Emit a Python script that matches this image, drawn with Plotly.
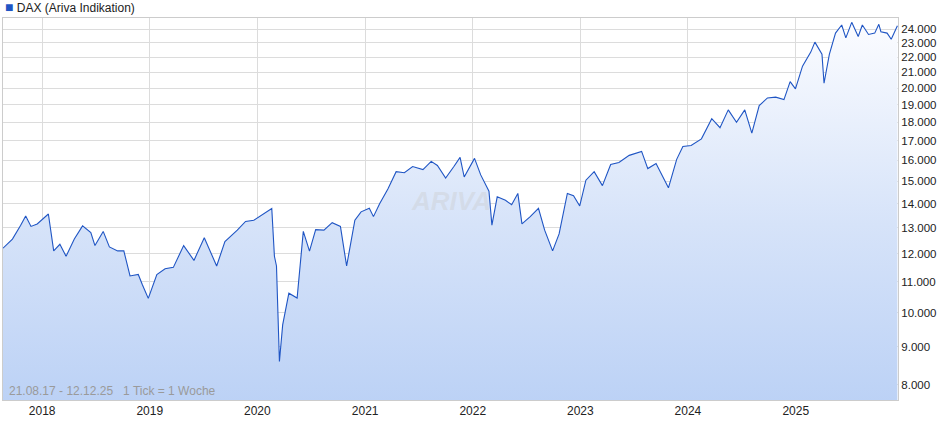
import plotly.graph_objects as go

# DAX, Wochenverlauf (Werte aus dem Bild geschätzt)
dates = [
    "2017-08-21", "2017-09-22", "2017-10-20", "2017-11-06", "2017-11-24", "2017-12-15",
    "2018-01-22", "2018-02-09", "2018-03-02", "2018-03-23", "2018-04-20", "2018-05-18",
    "2018-06-15", "2018-06-29", "2018-07-27", "2018-08-17", "2018-09-14", "2018-10-05",
    "2018-10-26", "2018-11-23", "2018-12-07", "2018-12-27", "2019-01-25", "2019-02-22",
    "2019-03-22", "2019-04-26", "2019-05-31", "2019-07-05", "2019-08-16", "2019-09-13",
    "2019-10-25", "2019-11-22", "2019-12-20", "2020-01-17", "2020-02-19", "2020-02-28",
    "2020-03-06", "2020-03-16", "2020-03-27", "2020-04-17", "2020-05-15", "2020-06-05",
    "2020-06-26", "2020-07-17", "2020-08-14", "2020-09-11", "2020-10-09", "2020-10-30",
    "2020-11-27", "2020-12-18", "2021-01-15", "2021-01-29", "2021-02-19", "2021-03-19",
    "2021-04-16", "2021-05-14", "2021-06-11", "2021-07-16", "2021-08-13", "2021-09-03",
    "2021-10-01", "2021-10-29", "2021-11-19", "2021-12-03", "2021-12-31", "2022-01-07",
    "2022-01-28", "2022-02-25", "2022-03-07", "2022-03-25", "2022-04-22", "2022-05-13",
    "2022-06-03", "2022-06-17", "2022-07-15", "2022-08-12", "2022-09-02", "2022-09-29",
    "2022-10-21", "2022-11-18", "2022-12-09", "2022-12-30", "2023-01-20", "2023-02-17",
    "2023-03-17", "2023-04-14", "2023-05-12", "2023-06-16", "2023-07-28", "2023-08-18",
    "2023-09-15", "2023-10-27", "2023-11-24", "2023-12-15", "2024-01-12", "2024-02-16",
    "2024-03-22", "2024-04-19", "2024-05-17", "2024-06-14", "2024-07-12", "2024-08-05",
    "2024-08-30", "2024-09-27", "2024-10-25", "2024-11-22", "2024-12-13", "2024-12-31",
    "2025-01-24", "2025-02-21", "2025-03-07", "2025-03-31", "2025-04-07", "2025-04-25",
    "2025-05-16", "2025-06-06", "2025-06-20", "2025-07-10", "2025-08-01", "2025-08-15",
    "2025-09-05", "2025-09-26", "2025-10-10", "2025-10-17", "2025-11-07", "2025-11-21",
    "2025-12-12",
]
values = [
    12200, 12550, 13100, 13480, 13050, 13150,
    13560, 12100, 12350, 11900, 12550, 13070,
    12800, 12300, 12850, 12250, 12100, 12100,
    11200, 11250, 10900, 10450, 11250, 11450,
    11500, 12300, 11750, 12600, 11550, 12450,
    12900, 13250, 13300, 13520, 13790, 11900,
    11550, 8600, 9630, 10620, 10460, 12850,
    12090, 12920, 12900, 13200, 13050, 11550,
    13300, 13650, 13800, 13450, 14000, 14650,
    15450, 15400, 15700, 15550, 15950, 15750,
    15150, 15700, 16150, 15200, 15900, 16100,
    15300, 14550, 13100, 14300, 14150, 13950,
    14450, 13150, 13450, 13800, 12900, 12100,
    12750, 14450, 14350, 13900, 15050, 15450,
    14800, 15800, 15900, 16250, 16450, 15600,
    15850, 14700, 16050, 16700, 16750, 17100,
    18200, 17700, 18700, 18000, 18700, 17400,
    18950, 19400, 19450, 19300, 20400, 19950,
    21400, 22350, 23050, 22200, 20300, 22200,
    23700, 24300, 23350, 24500, 23450, 24300,
    23600, 23700, 24350, 23800, 23700, 23250,
    24250,
]

year_ticks = ["2018-01-01", "2019-01-01", "2020-01-01", "2021-01-01", "2022-01-01",
              "2023-01-01", "2024-01-01", "2025-01-01"]
year_labels = ["2018", "2019", "2020", "2021", "2022", "2023", "2024", "2025"]
y_ticks = [8000, 9000, 10000, 11000, 12000, 13000, 14000, 15000, 16000, 17000,
           18000, 19000, 20000, 21000, 22000, 23000, 24000]
y_labels = ["8.000", "9.000", "10.000", "11.000", "12.000", "13.000", "14.000", "15.000",
            "16.000", "17.000", "18.000", "19.000", "20.000", "21.000", "22.000",
            "23.000", "24.000"]

LINE = "#1f55c4"

fig = go.Figure()
# Basislinie für die Flächenfüllung (log-Achse)
fig.add_trace(go.Scatter(x=[dates[0], dates[-1]], y=[7000, 7000], mode="lines",
                         line=dict(width=0), hoverinfo="skip", showlegend=False))
fig.add_trace(go.Scatter(
    x=dates, y=values, mode="lines", name="DAX",
    line=dict(color=LINE, width=1.1),
    fill="tonexty",
    fillgradient=dict(type="vertical",
                      colorscale=[[0, "#b8cff5"], [0.5, "#d6e3f9"], [1, "#fbfcff"]]),
    showlegend=False,
))

fig.update_layout(
    width=940, height=435,
    margin=dict(l=3, r=42, t=18, b=35),
    paper_bgcolor="white", plot_bgcolor="white",
    font=dict(family="Liberation Sans, Arial, sans-serif", size=12, color="#222"),
    xaxis=dict(range=["2017-08-21", "2025-12-14"], tickvals=year_ticks, ticktext=year_labels,
               showgrid=True, gridcolor="#dcdcdc", showline=True, linecolor="#cccccc",
               mirror=True, ticks="", automargin=False, tickfont=dict(size=12, color="#222")),
    yaxis=dict(type="log", side="right", range=[3.8829, 4.3950],
               tickvals=y_ticks, ticktext=y_labels, showgrid=True, gridcolor="#dcdcdc",
               showline=True, linecolor="#cccccc", mirror=True, ticks="", automargin=False,
               tickfont=dict(size=11.5, color="#222")),
)

fig.add_annotation(xref="paper", yref="paper", x=0.0, y=1.0, yshift=1, yanchor="bottom",
                   xanchor="left", showarrow=False,
                   text="<span style='color:#1f55c4;font-size:14px'>■</span> DAX (Ariva Indikation)",
                   font=dict(size=12, color="#222"))
fig.add_annotation(xref="paper", yref="paper", x=0.005, y=0.0, yanchor="bottom",
                   xanchor="left", showarrow=False,
                   text="21.08.17 - 12.12.25&nbsp;&nbsp;&nbsp;1 Tick = 1 Woche",
                   font=dict(size=12, color="#9a9a9a"))
fig.add_annotation(xref="paper", yref="paper", x=0.5, y=0.52, showarrow=False,
                   text="<b><i>ARIVA</i></b>", font=dict(size=26, color="rgba(200,200,200,0.35)"))

fig.write_html("out.html", config={"displayModeBar": False},
               post_script="document.body.style.margin='0';")
